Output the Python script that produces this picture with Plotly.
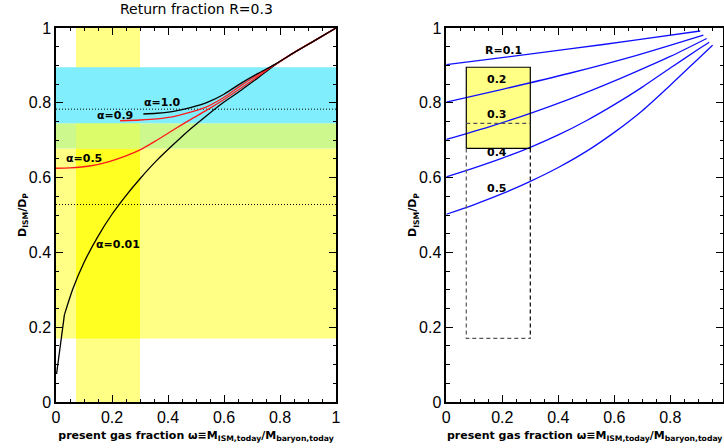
import plotly.graph_objects as go

# ---------------- data ----------------
# Left panel: D_ISM/D_P vs present gas fraction, return fraction R=0.3
omega_a001 = [0.002, 0.03, 0.06, 0.1, 0.15, 0.2, 0.25, 0.3, 0.36, 0.42, 0.48, 0.54, 0.6, 0.66, 0.72, 0.78, 0.85, 0.925, 1.0]
d_a001 = [0.075, 0.233, 0.302, 0.373, 0.443, 0.502, 0.552, 0.597, 0.646, 0.689, 0.730, 0.767, 0.802, 0.833, 0.866, 0.900, 0.934, 0.967, 1.0]

omega_a05 = [0.0, 0.05, 0.12, 0.19, 0.25, 0.3, 0.36, 0.42, 0.48, 0.54, 0.6, 0.66, 0.72, 0.78, 0.85, 0.925, 1.0]
d_a05 = [0.625, 0.626, 0.631, 0.643, 0.658, 0.674, 0.700, 0.728, 0.755, 0.781, 0.809, 0.839, 0.870, 0.901, 0.934, 0.967, 1.0]

omega_a09 = [0.229, 0.3, 0.36, 0.42, 0.48, 0.54, 0.6, 0.66, 0.72, 0.78, 0.85, 0.925, 1.0]
d_a09 = [0.752, 0.754, 0.757, 0.763, 0.775, 0.790, 0.815, 0.846, 0.875, 0.901, 0.934, 0.967, 1.0]

omega_a10 = [0.312, 0.36, 0.42, 0.48, 0.54, 0.6, 0.66, 0.72, 0.78, 0.85, 0.925, 1.0]
d_a10 = [0.770, 0.772, 0.777, 0.787, 0.801, 0.823, 0.852, 0.878, 0.902, 0.934, 0.967, 1.0]

alpha_labels = ["α=1.0", "α=0.9", "α=0.5", "α=0.01"]
alpha_label_x = [0.38, 0.21, 0.10, 0.22]
alpha_label_y = [0.80, 0.765, 0.65, 0.42]

# observational bands (left panel)
band_yellow_y = [0.17, 0.745]
band_cyan_y = [0.678, 0.895]
band_omega_x = [0.0714, 0.3]
dotted_levels = [0.783, 0.528]

# Right panel: alpha = 1 model for several return fractions R
omega_R01 = [0.0, 0.22, 0.44, 0.68, 0.907]
d_R01 = [0.902, 0.923, 0.944, 0.968, 0.992]
omega_R02 = [0.0, 0.2, 0.44, 0.68, 0.918]
d_R02 = [0.802, 0.836, 0.879, 0.927, 0.981]
omega_R03 = [0.0, 0.15, 0.3, 0.44, 0.56, 0.68, 0.8, 0.93]
d_R03 = [0.702, 0.735, 0.772, 0.810, 0.846, 0.884, 0.924, 0.972]
omega_R04 = [0.0, 0.1, 0.2, 0.3, 0.4, 0.5, 0.6, 0.7, 0.8, 0.9, 0.939]
d_R04 = [0.602, 0.626, 0.652, 0.681, 0.714, 0.752, 0.795, 0.842, 0.893, 0.943, 0.962]
omega_R05 = [0.0, 0.1, 0.2, 0.3, 0.4, 0.5, 0.6, 0.7, 0.8, 0.9, 0.951]
d_R05 = [0.502, 0.528, 0.557, 0.590, 0.627, 0.670, 0.721, 0.779, 0.847, 0.918, 0.954]

R_labels = ["R=0.1", "0.2", "0.3", "0.4", "0.5"]
R_label_x = [0.205, 0.18, 0.18, 0.18, 0.18]
R_label_y = [0.94, 0.862, 0.769, 0.668, 0.570]

box_omega = [0.0714, 0.3]
box_solid_y = [0.678, 0.895]
box_mid_y = 0.745
box_low_y = 0.17

tick_vals = [0, 0.2, 0.4, 0.6, 0.8, 1]

# ---------------- figure ----------------
fig = go.Figure()

def line(x, y, color, xa="x", ya="y", width=1.3, dash=None, shape="linear"):
    fig.add_trace(go.Scatter(x=x, y=y, mode="lines", xaxis=xa, yaxis=ya,
                             line=dict(color=color, width=width, dash=dash, shape=shape,
                                       smoothing=0.8 if shape == "spline" else None),
                             hoverinfo="skip", showlegend=False))

# dotted reference levels
for lv in dotted_levels:
    line([0, 1], [lv, lv], "black", width=1, dash="1px,2px")

line(omega_a001[:2], d_a001[:2], "black")
line(omega_a001[1:], d_a001[1:], "black", shape="spline")
line(omega_a05, d_a05, "#ff1a1a", shape="spline")
line(omega_a09, d_a09, "#ff1a1a", shape="spline")
line(omega_a10, d_a10, "black", shape="spline")

for xs, ys in [(omega_R01, d_R01), (omega_R02, d_R02), (omega_R03, d_R03),
               (omega_R04, d_R04), (omega_R05, d_R05)]:
    line(xs, ys, "#1010ff", xa="x2", ya="y2", shape="spline")

# right-panel box
x0, x1 = box_omega
line([x0, x0, x1, x1, x0], [box_solid_y[0], box_solid_y[1], box_solid_y[1], box_solid_y[0], box_solid_y[0]],
     "black", xa="x2", ya="y2", width=1.2)
line([x0, x1], [box_mid_y, box_mid_y], "#555555", xa="x2", ya="y2", width=1.2, dash="4px,3px")
line([x0, x0, x1], [box_solid_y[0], box_low_y, box_low_y], "#555555", xa="x2", ya="y2", width=1.2, dash="4px,3px")
line([x1, x1], [box_solid_y[0], box_low_y], "black", xa="x2", ya="y2", width=1.2, dash="4px,3px")

# ---------------- shaded bands ----------------
LY = "#ffff85"      # single yellow hatch
YY = "#ffff22"      # overlapping yellow hatches
GR = "#cdf88e"      # yellow + cyan
GRV = "#dcfc6a"
CY = "#80eefc"      # cyan hatch
bx0, bx1 = band_omega_x
shapes = [
    dict(x0=0, x1=1, y0=band_yellow_y[0], y1=band_cyan_y[0], fillcolor=LY),
    dict(x0=bx0, x1=bx1, y0=0, y1=1, fillcolor=LY),
    dict(x0=bx0, x1=bx1, y0=band_yellow_y[0], y1=band_cyan_y[0], fillcolor=YY),
    dict(x0=0, x1=1, y0=band_cyan_y[0], y1=band_yellow_y[1], fillcolor=GR),
    dict(x0=bx0, x1=bx1, y0=band_cyan_y[0], y1=band_yellow_y[1], fillcolor=GRV),
    dict(x0=0, x1=1, y0=band_yellow_y[1], y1=band_cyan_y[1], fillcolor=CY),
    dict(x0=box_omega[0], x1=box_omega[1], y0=box_solid_y[0], y1=box_solid_y[1], fillcolor=LY,
         xref="x2", yref="y2"),
]
for s in shapes:
    s.setdefault("xref", "x")
    s.setdefault("yref", "y")
    fig.add_shape(type="rect", layer="below", line=dict(width=0), **s)

# ---------------- labels ----------------
lab_font = dict(family="DejaVu Sans", size=11, color="black")
for t, x, y in zip(alpha_labels, alpha_label_x, alpha_label_y):
    fig.add_annotation(x=x, y=y, xref="x", yref="y", text="<b>" + t + "</b>",
                       showarrow=False, font=lab_font)
for t, x, y in zip(R_labels, R_label_x, R_label_y):
    fig.add_annotation(x=x, y=y, xref="x2", yref="y2", text="<b>" + t + "</b>",
                       showarrow=False, font=lab_font)

fig.add_annotation(x=0.5, xref="x", y=1.05, yref="paper", yanchor="middle",
                   text="Return fraction R=0.3", showarrow=False,
                   font=dict(family="DejaVu Sans", size=14, color="black"))

# ---------------- axes ----------------
xtitle = "<b>present gas fraction ω≡M<sub>ISM,today</sub>/M<sub>baryon,today</sub></b>"
ytitle = "<b>D<sub>ISM</sub>/D<sub>P</sub></b>"

def axis(rng, domain, title, anchor, standoff):
    return dict(range=rng, domain=domain, anchor=anchor,
                showline=True, linecolor="black", linewidth=1.5, mirror="allticks",
                ticks="inside", ticklen=7, tickwidth=1, tickcolor="black",
                tickvals=tick_vals, ticktext=[("%g" % v) for v in tick_vals],
                minor=dict(ticks="inside", dtick=0.05, tick0=0, ticklen=3.5, tickwidth=1, tickcolor="black"),
                showgrid=False, zeroline=False, automargin=False,
                tickfont=dict(family="Liberation Sans", size=16, color="black"),
                title=dict(text=title, font=dict(family="DejaVu Sans", size=11, color="black"),
                           standoff=standoff))

W, H = 724, 448
ml, mr, mt, mb = 56, 1, 28, 46
pw = W - ml - mr
left_dom = [0, 280 / pw]
right_start = (446.3 - ml) / pw
right_max = (W - mr - 446.3) / 280

fig.update_layout(
    width=W, height=H, template="none",
    margin=dict(l=ml, r=mr, t=mt, b=mb),
    paper_bgcolor="white", plot_bgcolor="white",
    xaxis=axis([0, 1], left_dom, xtitle, "y", 6),
    yaxis=axis([0, 1], [0, 1], ytitle, "x", 0),
    xaxis2=axis([0, right_max], [right_start, 1], xtitle, "y2", 6),
    yaxis2=axis([0, 1], [0, 1], ytitle, "x2", 0),
    showlegend=False,
)

fig.write_html("out.html", config={"displayModeBar": False},
               post_script="document.body.style.margin='0';")
